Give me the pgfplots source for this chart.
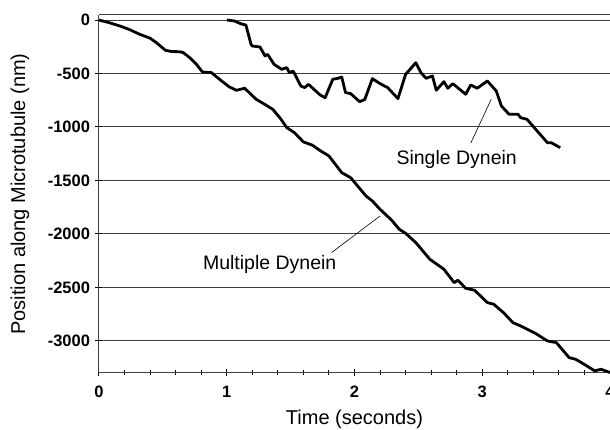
\documentclass[border=0pt]{standalone}
\usepackage{pgfplots}
\pgfplotsset{compat=1.18}
\usepackage{fontspec}
\setmainfont{Liberation Sans}

\begin{document}
\begin{tikzpicture}
\path[use as bounding box] (-99pt,-57pt) rectangle (511pt,373pt);
\begin{axis}[
    at={(0,0)}, anchor=south west,
    scale only axis,
    width=511pt, height=358pt,
    xmin=0, xmax=4,
    ymin=-3300, ymax=47,
    xtick={0,1,2,3,4},
    minor x tick num=4,
    ytick={0,-500,-1000,-1500,-2000,-2500,-3000},
    axis x line*=bottom,
    axis y line*=left,
    tick align=center,
    major tick length=7pt,
    minor tick length=5pt,
    every tick/.style={black, line width=1pt},
    axis line style={black!75, line width=1pt, -},
    ymajorgrids=true,
    grid style={black!75, line width=1pt},
    /pgf/number format/assume math mode=true,
    /pgf/number format/1000 sep={},
    xticklabel={\textbf{\pgfmathprintnumber{\tick}}},
    yticklabel={\textbf{\pgfmathprintnumber{\tick}}},
    tick label style={font=\fontsize{16.5}{19}\selectfont},
    yticklabel style={xshift=-2pt},
    xticklabel style={yshift=-6pt},
    every axis x label/.style={at={(rel axis cs:0.5,0)}, anchor=center, yshift=-46pt},
    every axis y label/.style={at={(rel axis cs:0,0.5)}, anchor=center, rotate=90, yshift=79pt},
    xlabel={Time (seconds)},
    ylabel={Position along Microtubule (nm)},
    label style={font=\fontsize{20}{24}\selectfont},
    clip=false,
]
\draw[black!75, line width=1pt] (axis cs:0,47) -- (axis cs:4,47);

% Multiple Dynein
\addplot[black, line width=2.8pt, line join=round] coordinates {
(0,0)(0.08,-25)(0.164,-56)(0.24,-90)(0.32,-134)(0.40,-170)(0.45,-212)
(0.52,-283)(0.57,-295)(0.63,-296)(0.66,-305)(0.71,-352)(0.76,-410)
(0.81,-486)(0.88,-492)(0.96,-570)(1.02,-625)(1.075,-657)(1.14,-638)
(1.23,-741)(1.30,-790)(1.36,-835)(1.42,-920)(1.47,-1006)(1.53,-1053)
(1.60,-1140)(1.67,-1170)(1.73,-1220)(1.80,-1271)(1.90,-1427)(1.97,-1474)
(2.03,-1560)(2.09,-1645)(2.14,-1692)(2.20,-1770)(2.29,-1870)(2.35,-1956)
(2.40,-1994)(2.48,-2081)(2.59,-2237)(2.70,-2330)(2.78,-2455)(2.81,-2433)
(2.87,-2508)(2.94,-2526)(3.04,-2642)(3.09,-2657)(3.17,-2740)(3.24,-2829)
(3.30,-2860)(3.42,-2932)(3.51,-3000)(3.58,-3016)(3.68,-3156)(3.73,-3171)
(3.80,-3220)(3.88,-3280)(3.93,-3265)(4.0,-3296)
};

% Single Dynein
\addplot[black, line width=2.8pt, line join=round] coordinates {
(1.0,0)(1.06,-9)(1.11,-35)(1.15,-47)(1.19,-227)(1.20,-243)(1.26,-252)
(1.30,-336)(1.32,-321)(1.37,-414)(1.43,-461)(1.47,-445)(1.49,-492)
(1.52,-477)(1.58,-617)(1.61,-632)(1.64,-601)(1.73,-700)(1.77,-726)
(1.83,-554)(1.87,-545)(1.90,-533)(1.93,-679)(1.97,-688)(2.04,-763)
(2.08,-744)(2.14,-548)(2.20,-595)(2.26,-632)(2.34,-735)(2.40,-508)
(2.48,-399)(2.52,-492)(2.56,-545)(2.61,-523)(2.64,-657)(2.70,-576)
(2.73,-638)(2.77,-595)(2.87,-694)(2.91,-607)(2.96,-638)(3.04,-570)
(3.11,-664)(3.15,-804)(3.21,-881)(3.28,-881)(3.30,-913)(3.35,-928)
(3.51,-1147)(3.54,-1147)(3.61,-1193)
};

\draw[black, line width=0.6pt] (axis cs:2.91,-1152) -- (axis cs:3.07,-741);
\node[font=\fontsize{19.5}{23}\selectfont] at (axis cs:2.80,-1302) {Single Dynein};
\draw[black, line width=0.6pt] (axis cs:1.82,-2175) -- (axis cs:2.20,-1832);
\node[font=\fontsize{19.5}{23}\selectfont] at (axis cs:1.336,-2283) {Multiple Dynein};
\end{axis}
\end{tikzpicture}
\end{document}
